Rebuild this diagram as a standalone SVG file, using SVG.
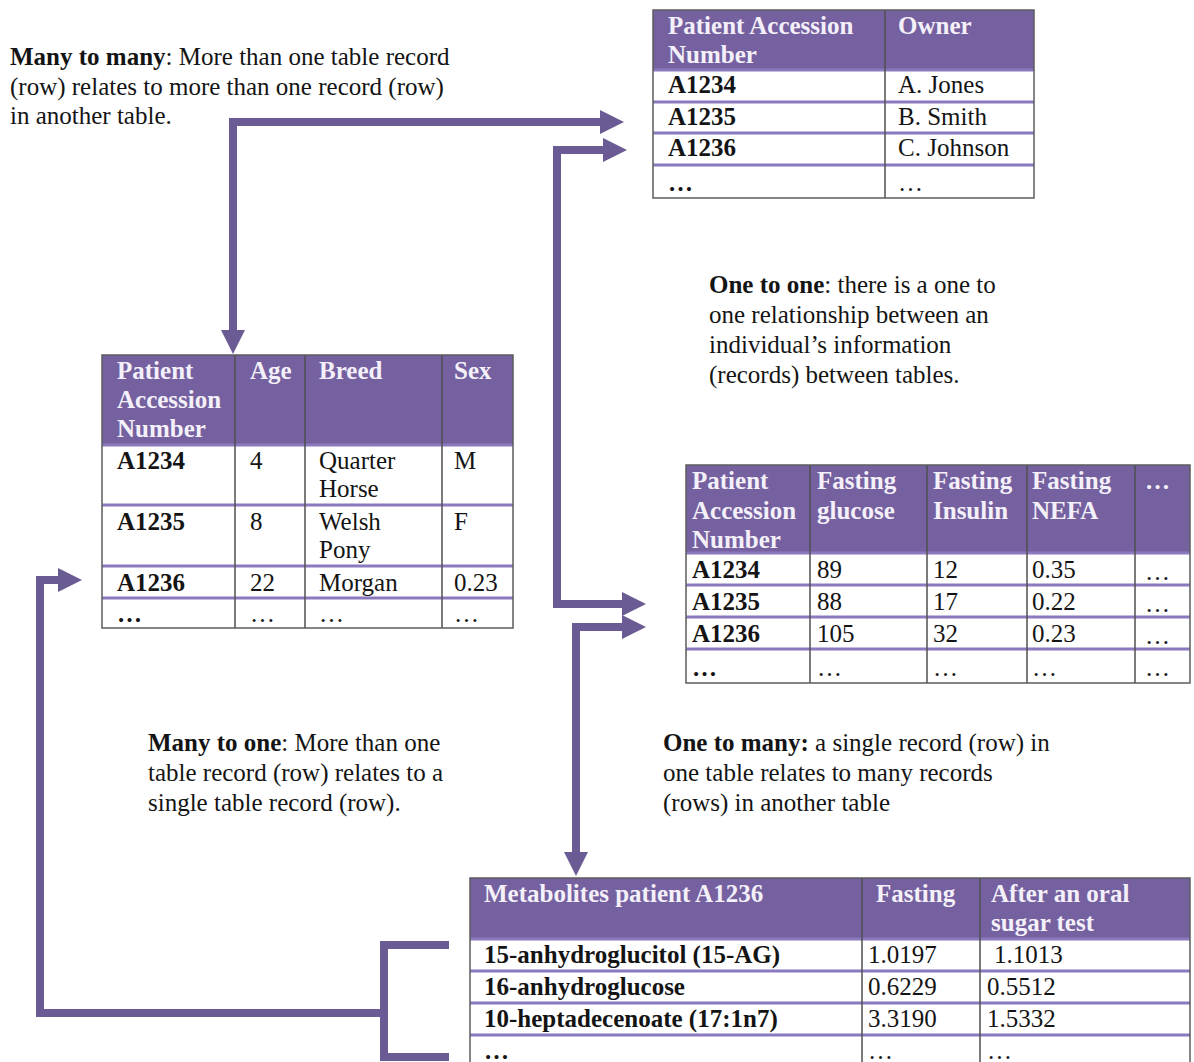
<svg xmlns="http://www.w3.org/2000/svg" width="1194" height="1062" viewBox="0 0 1194 1062">
  <style>
    .bg { fill: #ffffff; }
    .hd { fill: #7561a0; }
    .ht { font-family: 'Liberation Serif', 'Times New Roman', serif; font-size: 25px; font-weight: bold; fill: #f4f0f9; }
    .tx { font-family: 'Liberation Serif', 'Times New Roman', serif; font-size: 25px; fill: #141414; }
    .b { font-weight: bold; }
    .rl { stroke: #8b79bd; stroke-width: 3; }
    .vl { stroke: #4f4f4f; stroke-width: 1.5; }
    .ol { fill: none; stroke: #5c5c5c; stroke-width: 1.5; }
    .cn { fill: none; stroke: #6b5b95; stroke-width: 8; }
  </style>
  <defs>
    <marker id="head" viewBox="0 0 10 10" refX="0" refY="5" markerUnits="userSpaceOnUse" markerWidth="24" markerHeight="26" orient="auto-start-reverse">
      <path d="M0,0 L10,5 L0,10 z" fill="#6b5b95"/>
    </marker>
  </defs>

  <rect class="bg" width="1194" height="1062"/>

  <!-- relationship notes -->
  <g id="note-many-to-many">
    <text class="tx" x="10" y="65"><tspan class="b">Many to many</tspan>: More than one table record</text>
    <text class="tx" x="10" y="95">(row) relates to more than one record (row)</text>
    <text class="tx" x="10" y="124">in another table.</text>
  </g>
  <g id="note-one-to-one">
    <text class="tx" x="709" y="293"><tspan class="b">One to one</tspan>: there is a one to</text>
    <text class="tx" x="709" y="323">one relationship between an</text>
    <text class="tx" x="709" y="353">individual’s information</text>
    <text class="tx" x="709" y="383">(records) between tables.</text>
  </g>
  <g id="note-many-to-one">
    <text class="tx" x="148" y="751"><tspan class="b">Many to one</tspan>: More than one</text>
    <text class="tx" x="148" y="781">table record (row) relates to a</text>
    <text class="tx" x="148" y="811">single table record (row).</text>
  </g>
  <g id="note-one-to-many">
    <text class="tx" x="663" y="751"><tspan class="b">One to many:</tspan> a single record (row) in</text>
    <text class="tx" x="663" y="781">one table relates to many records</text>
    <text class="tx" x="663" y="811">(rows) in another table</text>
  </g>

  <!-- connectors -->
  <g id="connectors">
    <path class="cn" d="M233,330 V122 H600" marker-start="url(#head)" marker-end="url(#head)"/>
    <path class="cn" d="M603,150 H557 V604 H622" marker-start="url(#head)" marker-end="url(#head)"/>
    <path class="cn" d="M622,627 H576 V852" marker-start="url(#head)" marker-end="url(#head)"/>
    <path class="cn" d="M449,945 H384 V1057 H449"/>
    <path class="cn" d="M384,1013 H40 V580 H58" marker-end="url(#head)"/>
  </g>

  <!-- owner table -->
  <g id="table-owner">
    <rect class="bg" x="653" y="10" width="381" height="188"/>
    <rect class="hd" x="653" y="10" width="381" height="60"/>
    <line class="rl" x1="653" y1="70" x2="1034" y2="70"/>
    <line class="rl" x1="653" y1="102" x2="1034" y2="102"/>
    <line class="rl" x1="653" y1="133" x2="1034" y2="133"/>
    <line class="rl" x1="653" y1="165" x2="1034" y2="165"/>
    <line class="vl" x1="885" y1="10" x2="885" y2="198"/>
    <rect class="ol" x="653" y="10" width="381" height="188"/>
    <text class="ht" x="668" y="34">Patient Accession</text>
    <text class="ht" x="668" y="63">Number</text>
    <text class="ht" x="898" y="34">Owner</text>
    <text class="tx b" x="668" y="93">A1234</text>
    <text class="tx b" x="668" y="125">A1235</text>
    <text class="tx b" x="668" y="156">A1236</text>
    <text class="tx b" x="668" y="191">…</text>
    <text class="tx" x="898" y="93">A. Jones</text>
    <text class="tx" x="898" y="125">B. Smith</text>
    <text class="tx" x="898" y="156">C. Johnson</text>
    <text class="tx" x="898" y="191">…</text>
  </g>

  <!-- patient table -->
  <g id="table-patient">
    <rect class="bg" x="102" y="355" width="411" height="273"/>
    <rect class="hd" x="102" y="355" width="411" height="90"/>
    <line class="rl" x1="102" y1="445" x2="513" y2="445"/>
    <line class="rl" x1="102" y1="505" x2="513" y2="505"/>
    <line class="rl" x1="102" y1="566" x2="513" y2="566"/>
    <line class="rl" x1="102" y1="598" x2="513" y2="598"/>
    <line class="vl" x1="235" y1="355" x2="235" y2="628"/>
    <line class="vl" x1="305" y1="355" x2="305" y2="628"/>
    <line class="vl" x1="442" y1="355" x2="442" y2="628"/>
    <rect class="ol" x="102" y="355" width="411" height="273"/>
    <text class="ht" x="117" y="379">Patient</text>
    <text class="ht" x="117" y="408">Accession</text>
    <text class="ht" x="117" y="437">Number</text>
    <text class="ht" x="250" y="379">Age</text>
    <text class="ht" x="319" y="379">Breed</text>
    <text class="ht" x="454" y="379">Sex</text>
    <text class="tx b" x="117" y="469">A1234</text>
    <text class="tx" x="250" y="469">4</text>
    <text class="tx" x="319" y="469">Quarter</text>
    <text class="tx" x="319" y="497">Horse</text>
    <text class="tx" x="454" y="469">M</text>
    <text class="tx b" x="117" y="530">A1235</text>
    <text class="tx" x="250" y="530">8</text>
    <text class="tx" x="319" y="530">Welsh</text>
    <text class="tx" x="319" y="558">Pony</text>
    <text class="tx" x="454" y="530">F</text>
    <text class="tx b" x="117" y="591">A1236</text>
    <text class="tx" x="250" y="591">22</text>
    <text class="tx" x="319" y="591">Morgan</text>
    <text class="tx" x="454" y="591">0.23</text>
    <text class="tx b" x="117" y="622">…</text>
    <text class="tx" x="250" y="622">…</text>
    <text class="tx" x="319" y="622">…</text>
    <text class="tx" x="454" y="622">…</text>
  </g>

  <!-- fasting measurements table -->
  <g id="table-fasting">
    <rect class="bg" x="686" y="465" width="504" height="218"/>
    <rect class="hd" x="686" y="465" width="504" height="88"/>
    <line class="rl" x1="686" y1="553" x2="1190" y2="553"/>
    <line class="rl" x1="686" y1="585" x2="1190" y2="585"/>
    <line class="rl" x1="686" y1="617" x2="1190" y2="617"/>
    <line class="rl" x1="686" y1="649" x2="1190" y2="649"/>
    <line class="vl" x1="810" y1="465" x2="810" y2="683"/>
    <line class="vl" x1="927" y1="465" x2="927" y2="683"/>
    <line class="vl" x1="1027" y1="465" x2="1027" y2="683"/>
    <line class="vl" x1="1135" y1="465" x2="1135" y2="683"/>
    <rect class="ol" x="686" y="465" width="504" height="218"/>
    <text class="ht" x="692" y="489">Patient</text>
    <text class="ht" x="692" y="519">Accession</text>
    <text class="ht" x="692" y="548">Number</text>
    <text class="ht" x="817" y="489">Fasting</text>
    <text class="ht" x="817" y="519">glucose</text>
    <text class="ht" x="933" y="489">Fasting</text>
    <text class="ht" x="933" y="519">Insulin</text>
    <text class="ht" x="1032" y="489">Fasting</text>
    <text class="ht" x="1032" y="519">NEFA</text>
    <text class="ht" x="1145" y="489">…</text>
    <text class="tx b" x="692" y="578">A1234</text>
    <text class="tx" x="817" y="578">89</text>
    <text class="tx" x="933" y="578">12</text>
    <text class="tx" x="1032" y="578">0.35</text>
    <text class="tx" x="1145" y="580">…</text>
    <text class="tx b" x="692" y="610">A1235</text>
    <text class="tx" x="817" y="610">88</text>
    <text class="tx" x="933" y="610">17</text>
    <text class="tx" x="1032" y="610">0.22</text>
    <text class="tx" x="1145" y="612">…</text>
    <text class="tx b" x="692" y="642">A1236</text>
    <text class="tx" x="817" y="642">105</text>
    <text class="tx" x="933" y="642">32</text>
    <text class="tx" x="1032" y="642">0.23</text>
    <text class="tx" x="1145" y="644">…</text>
    <text class="tx b" x="692" y="676">…</text>
    <text class="tx" x="817" y="676">…</text>
    <text class="tx" x="933" y="676">…</text>
    <text class="tx" x="1032" y="676">…</text>
    <text class="tx" x="1145" y="676">…</text>
  </g>

  <!-- metabolites table -->
  <g id="table-metabolites">
    <rect class="bg" x="470" y="878" width="720" height="190"/>
    <rect class="hd" x="470" y="878" width="720" height="61"/>
    <line class="rl" x1="470" y1="939" x2="1190" y2="939"/>
    <line class="rl" x1="470" y1="971" x2="1190" y2="971"/>
    <line class="rl" x1="470" y1="1003" x2="1190" y2="1003"/>
    <line class="rl" x1="470" y1="1035" x2="1190" y2="1035"/>
    <line class="vl" x1="862" y1="878" x2="862" y2="1068"/>
    <line class="vl" x1="980" y1="878" x2="980" y2="1068"/>
    <rect class="ol" x="470" y="878" width="720" height="190"/>
    <text class="ht" x="484" y="902">Metabolites patient A1236</text>
    <text class="ht" x="876" y="902">Fasting</text>
    <text class="ht" x="991" y="902">After an oral</text>
    <text class="ht" x="991" y="931">sugar test</text>
    <text class="tx b" x="484" y="963">15-anhydroglucitol (15-AG)</text>
    <text class="tx" x="868" y="963">1.0197</text>
    <text class="tx" x="994" y="963">1.1013</text>
    <text class="tx b" x="484" y="995">16-anhydroglucose</text>
    <text class="tx" x="868" y="995">0.6229</text>
    <text class="tx" x="987" y="995">0.5512</text>
    <text class="tx b" x="484" y="1027">10-heptadecenoate (17:1n7)</text>
    <text class="tx" x="868" y="1027">3.3190</text>
    <text class="tx" x="987" y="1027">1.5332</text>
    <text class="tx b" x="484" y="1059">…</text>
    <text class="tx" x="868" y="1059">…</text>
    <text class="tx" x="987" y="1059">…</text>
  </g>
</svg>
